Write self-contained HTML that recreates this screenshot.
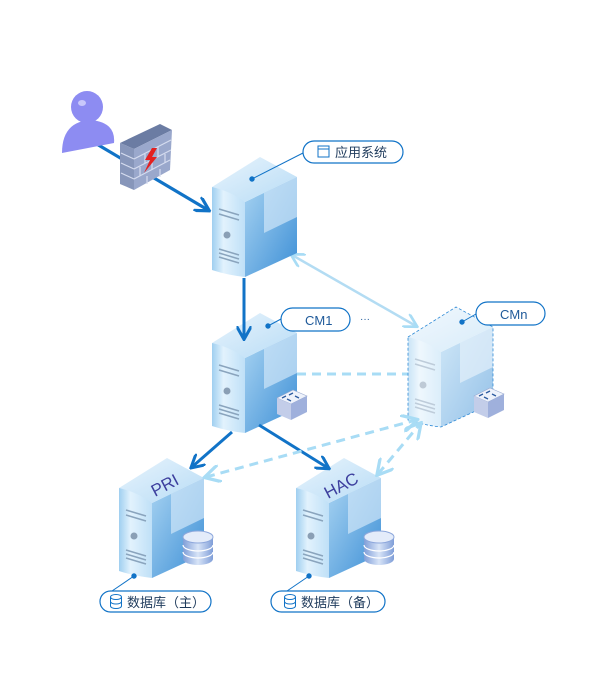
<!DOCTYPE html>
<html><head><meta charset="utf-8"><style>
html,body{margin:0;padding:0;background:#fff;width:600px;height:680px;overflow:hidden}
svg{display:block}
text{font-family:"Liberation Sans","Noto Sans CJK SC",sans-serif}
</style></head><body>
<svg width="600" height="680" viewBox="0 0 600 680" xmlns="http://www.w3.org/2000/svg">
<defs>
<linearGradient id="gl" x1="0" y1="0" x2="1" y2="0"><stop offset="0" stop-color="#9fcff0"/><stop offset="0.35" stop-color="#e2f2fd"/><stop offset="1" stop-color="#bfe0f7"/></linearGradient>
<linearGradient id="gr" x1="0" y1="0" x2="1" y2="1"><stop offset="0" stop-color="#a9d4f2"/><stop offset="1" stop-color="#3d8fd6"/></linearGradient>
<linearGradient id="gt" x1="0" y1="0" x2="1" y2="1"><stop offset="0" stop-color="#e8f4fd"/><stop offset="1" stop-color="#b8dcf5"/></linearGradient>
<linearGradient id="gdb" x1="0" y1="0" x2="1" y2="0"><stop offset="0" stop-color="#7f9ed8"/><stop offset="0.5" stop-color="#d8e4f7"/><stop offset="1" stop-color="#7f9ed8"/></linearGradient>
<g id="srv">
  <path d="M33,45 L85,20 L85,96 L33,120Z" fill="url(#gr)"/>
  <path d="M52,36 L85,20 L85,60 L52,76Z" fill="#cfe6f8" opacity="0.7"/>
  <path d="M0,30 L48,0 L85,20 L33,45Z" fill="url(#gt)"/>
  <path d="M0,30 Q18,34 33,45 L33,120 Q15,118 0,113Z" fill="url(#gl)"/>
  <g stroke="#8aa4bd" stroke-width="1.5">
    <line x1="7" y1="52" x2="27" y2="58"/><line x1="7" y1="57" x2="27" y2="63"/>
    <line x1="7" y1="92" x2="27" y2="98"/><line x1="7" y1="96" x2="27" y2="102"/><line x1="7" y1="100" x2="27" y2="106"/>
  </g>
  <circle cx="15" cy="78" r="3.5" fill="#8a9fb5"/>
</g>
<g id="db">
  <path d="M0,6 L0,28 A15,6 0 0 0 30,28 L30,6Z" fill="url(#gdb)"/>
  <ellipse cx="15" cy="6" rx="15" ry="6" fill="#e4ecfa" stroke="#8ea8dc"/>
  <path d="M0,14 A15,6 0 0 0 30,14 M0,21 A15,6 0 0 0 30,21" fill="none" stroke="#fff" stroke-width="1.2"/>
</g>
<g id="sw">
  <path d="M0,8 L16,0 L30,6 L14,14Z" fill="#eef2fb" stroke="#9aaad0" stroke-width="0.6"/>
  <path d="M0,8 L14,14 L14,30 L0,24Z" fill="#c3cde9"/>
  <path d="M14,14 L30,6 L30,22 L14,30Z" fill="#9fb0dc"/>
  <path d="M5,8 l4,-2 M12,5 l4,-2 M10,9 l4,2 M18,6 l4,2" stroke="#2c5aa0" stroke-width="1.3"/>
</g>
<marker id="ad" viewBox="0 0 10 10" refX="8" refY="5" markerWidth="5" markerHeight="5" orient="auto-start-reverse"><path d="M0,0 L9,5 L0,10" fill="none" stroke="#1173c7" stroke-width="2"/></marker>
<marker id="al" viewBox="0 0 10 10" refX="8" refY="5" markerWidth="6" markerHeight="6" orient="auto-start-reverse"><path d="M0,0 L9,5 L0,10" fill="none" stroke="#a8dcf5" stroke-width="1.8"/></marker>
</defs>

<!-- light connectors -->
<line x1="292" y1="255" x2="416" y2="326" stroke="#b3dcf3" stroke-width="2.5" marker-start="url(#al)" marker-end="url(#al)"/>
<line x1="297" y1="374" x2="408" y2="374" stroke="#a8dcf5" stroke-width="3" stroke-dasharray="9,6"/>

<!-- user line -->
<line x1="95" y1="143" x2="208" y2="210" stroke="#1173c7" stroke-width="3.2" marker-end="url(#ad)"/>

<!-- user -->
<circle cx="87" cy="107" r="16" fill="#8d8cf2"/>
<ellipse cx="82" cy="103" rx="4" ry="3" fill="#c8c8fb"/>
<path d="M62,153 Q62,122 90,120 Q116,122 114,143 Z" fill="#8d8cf2"/>

<!-- firewall -->
<path d="M120,143 L160,124 L172,130 L134,149Z" fill="#6b7ca3"/>
<path d="M120,143 L134,149 L134,190 L120,184Z" fill="#8796ba"/>
<path d="M134,149 L172,130 L170,170 L134,190Z" fill="#9aa8cc"/>
<g stroke="#d5dcef" stroke-width="1.2"><path d="M134,159 L171,140 M134,169 L171,150 M134,179 L170,160 M121,153 L134,159 M121,163 L134,169 M121,173 L134,179"/>
<path d="M145,154 v9 M158,147 v9 M140,167 v9 M152,161 v9 M165,154 v9 M147,176 v8 M160,169 v8" /></g>
<path d="M152,148 L145,160 L150,160 L144,173 L157,157 L152,157 L157,148Z" fill="#e32020"/>

<!-- servers -->
<use href="#srv" x="212" y="157"/>
<use href="#srv" x="212" y="313"/>
<use href="#sw" x="277" y="390"/>
<g opacity="0.55"><use href="#srv" x="408" y="307"/></g>
<path d="M408,337 L456,307 L493,327 L493,403 L441,427 Q423,425 408,420Z" fill="none" stroke="#2f8ad6" stroke-width="0.8" stroke-dasharray="3,2"/>
<use href="#sw" x="474" y="388"/>
<use href="#srv" x="119" y="458"/>
<use href="#db" x="183" y="531"/>
<use href="#srv" x="296" y="458"/>
<use href="#db" x="364" y="531"/>
<text x="0" y="0" font-size="17" fill="#3d3f9e" transform="translate(155,497) rotate(-28)">PRI</text>
<text x="0" y="0" font-size="17" fill="#3d3f9e" transform="translate(328,499) rotate(-28)">HAC</text>

<!-- connectors over servers -->
<line x1="244" y1="278" x2="244" y2="338" stroke="#1173c7" stroke-width="3" marker-end="url(#ad)"/>
<line x1="232" y1="432" x2="192" y2="467" stroke="#1173c7" stroke-width="3" marker-end="url(#ad)"/>
<line x1="259" y1="425" x2="328" y2="468" stroke="#1173c7" stroke-width="3" marker-end="url(#ad)"/>
<line x1="206" y1="477" x2="416" y2="420" stroke="#a8dcf5" stroke-width="3" stroke-dasharray="9,6" marker-start="url(#al)" marker-end="url(#al)"/>
<line x1="378" y1="474" x2="420" y2="424" stroke="#a8dcf5" stroke-width="3" stroke-dasharray="9,6" marker-start="url(#al)" marker-end="url(#al)"/>

<!-- label leaders -->
<g stroke="#1173c7" stroke-width="1" fill="#1173c7">
<line x1="252" y1="179" x2="303" y2="153"/><circle cx="252" cy="179" r="2.2"/>
<line x1="268" y1="326" x2="281" y2="319"/><circle cx="268" cy="326" r="2.2"/>
<line x1="462" y1="322" x2="476" y2="314"/><circle cx="462" cy="322" r="2.2"/>
<line x1="134" y1="576" x2="112" y2="591"/><circle cx="134" cy="576" r="2.2"/>
<line x1="309" y1="576" x2="287" y2="591"/><circle cx="309" cy="576" r="2.2"/>
</g>

<!-- pills -->
<g fill="#fff" stroke="#1173c7" stroke-width="1.2">
<rect x="303" y="141" width="100" height="22" rx="11"/>
<rect x="281" y="308" width="69" height="23" rx="11.5"/>
<rect x="476" y="302" width="69" height="23" rx="11.5"/>
<rect x="100" y="591" width="111" height="21" rx="10.5"/>
<rect x="271" y="591" width="114" height="21" rx="10.5"/>
</g>
<rect x="318" y="146" width="11" height="11" fill="none" stroke="#1173c7" stroke-width="1"/>
<line x1="318" y1="149" x2="329" y2="149" stroke="#1173c7"/>
<text x="335" y="157" font-size="13" fill="#1f3b5c">应用系统</text>
<text x="305" y="325" font-size="13" fill="#1f5a9a">CM1</text>
<text x="360" y="322" font-size="10" fill="#1f5a9a">···</text>
<text x="500" y="319" font-size="13" fill="#1f5a9a">CMn</text>
<g fill="none" stroke="#1173c7" stroke-width="1">
<ellipse cx="116" cy="597" rx="5.5" ry="2.5"/><path d="M110.5,597 V606 A5.5,2.5 0 0 0 121.5,606 V597 M110.5,601.5 A5.5,2.5 0 0 0 121.5,601.5"/>
<ellipse cx="290" cy="597" rx="5.5" ry="2.5"/><path d="M284.5,597 V606 A5.5,2.5 0 0 0 295.5,606 V597 M284.5,601.5 A5.5,2.5 0 0 0 295.5,601.5"/>
</g>
<text x="127" y="607" font-size="13" fill="#1f3b5c">数据库（主）</text>
<text x="301" y="607" font-size="13" fill="#1f3b5c">数据库（备）</text>
</svg>
</body></html>
